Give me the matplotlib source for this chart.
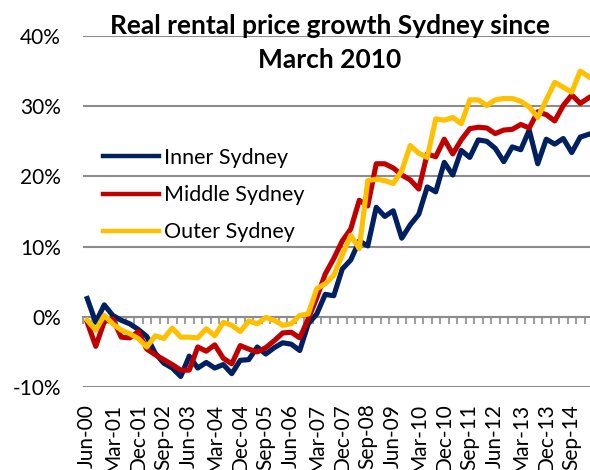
import numpy as np
import pandas as pd
import matplotlib
matplotlib.use("Agg")
import matplotlib.pyplot as plt
from matplotlib.ticker import FuncFormatter

plt.rcParams['font.family'] = ['Lato', 'DejaVu Sans']

# quarterly, Jun-00 .. Mar-15, % growth in real rents since Mar-2010 base
quarters = pd.period_range("2000Q2", periods=60, freq="Q")
quarter_labels = [q.strftime("%b-%y") for q in quarters]

inner_sydney = [2.6, -0.8, 1.7, 0.2, -0.5, -1.0, -1.8, -2.8, -5.2, -6.6,
                -7.3, -8.5, -5.6, -7.3, -6.5, -7.3, -6.8, -8.1, -6.2, -6.1,
                -4.3, -5.3, -4.4, -3.7, -3.9, -4.8, -1.0, 0.4, 3.2, 3.0,
                6.8, 8.1, 10.8, 10.1, 15.6, 14.3, 15.1, 11.2, 13.1, 14.6,
                18.5, 17.8, 22.0, 20.2, 23.7, 22.7, 25.2, 25.0, 24.0, 22.1,
                24.2, 23.8, 26.6, 21.8, 25.3, 24.6, 25.4, 23.4, 25.6, 26.0]
middle_sydney = [-0.8, -4.2, -0.7, -0.3, -2.9, -3.0, -2.1, -4.6, -5.4, -6.1,
                 -6.8, -7.6, -7.6, -4.3, -4.9, -4.0, -5.9, -6.7, -4.1, -4.6,
                 -5.0, -4.4, -3.4, -2.3, -2.2, -3.0, -0.3, 2.7, 6.1, 8.3,
                 10.8, 12.5, 16.6, 15.8, 21.8, 21.8, 21.2, 20.2, 19.5, 18.2,
                 23.2, 22.8, 25.3, 23.2, 25.2, 26.8, 27.0, 26.9, 26.1, 26.6,
                 26.7, 27.4, 26.9, 29.2, 28.8, 27.9, 30.1, 31.6, 30.4, 31.2]
outer_sydney = [-0.5, -1.9, 0.2, -1.0, -1.9, -2.4, -3.1, -4.3, -2.7, -3.1,
                -1.6, -2.9, -2.9, -3.0, -1.7, -2.7, -0.8, -1.2, -2.1, -0.6,
                -1.0, -0.1, -0.5, -1.2, -1.0, 0.2, 0.4, 4.0, 4.7, 5.9,
                8.8, 11.6, 9.7, 19.4, 19.6, 19.4, 19.0, 20.8, 24.4, 23.3,
                22.7, 28.2, 28.0, 28.4, 27.5, 30.9, 30.9, 30.1, 30.9, 31.1,
                31.1, 30.7, 29.9, 28.4, 30.9, 33.4, 32.7, 32.0, 35.0, 34.2]

series = [("Inner Sydney", inner_sydney, "#002060"),
          ("Middle Sydney", middle_sydney, "#C00000"),
          ("Outer Sydney", outer_sydney, "#FFC000")]

W, H = 590, 470
fig = plt.figure(figsize=(W / 100, H / 100), dpi=100)
ax = fig.add_axes([83 / W, (H - 387) / H, 510 / W, 351 / H])

x = np.arange(len(quarters))
for i, (name, vals, col) in enumerate(series):
    ax.plot(x, vals, color=col, lw=3.7, label=name, zorder=3 + i,
            solid_joinstyle="round")

grid_col = "#8c8c8c"
ax.set_xlim(-0.5, len(quarters) - 0.5)
ax.set_ylim(-10, 40)
ax.set_yticks(np.arange(-10, 41, 10))
ax.yaxis.set_major_formatter(FuncFormatter(lambda v, _: f"{v:.0f}%"))
ax.yaxis.grid(True, color=grid_col, lw=1.5)
ax.set_axisbelow(True)
ax.tick_params(axis="y", length=0, pad=16, labelsize=15)

for s in ("left", "right", "top"):
    ax.spines[s].set_visible(False)
ax.spines["bottom"].set_position(("data", 0))
ax.spines["bottom"].set_color(grid_col)
ax.spines["bottom"].set_linewidth(1.5)
# category boundary tick marks on the zero line, labels go to the bottom
ax.set_xticks(np.arange(-0.5, len(quarters), 1))
ax.tick_params(axis="x", direction="out", length=5, width=1.2,
               color=grid_col, labelbottom=False)

sec = ax.secondary_xaxis("bottom")
sec.set_xticks(x[::3], quarter_labels[::3])
sec.tick_params(length=0, pad=12, labelsize=15, labelrotation=90)
sec.spines["bottom"].set_visible(False)

fig.text(330 / W, 1 - 14 / H, "Real rental price growth Sydney since\nMarch 2010",
         ha="center", va="top", fontsize=19, fontweight="bold", linespacing=1.5)

leg = fig.legend(loc="upper left", bbox_to_anchor=(103 / W, 1 - 148 / H), frameon=False,
                 fontsize=15.5, handlelength=2.6, handletextpad=0.25, labelspacing=0.8,
                 borderpad=0, borderaxespad=0)
for h in leg.get_lines():
    h.set_linewidth(3.2)

fig.savefig("out.png", dpi=100)
